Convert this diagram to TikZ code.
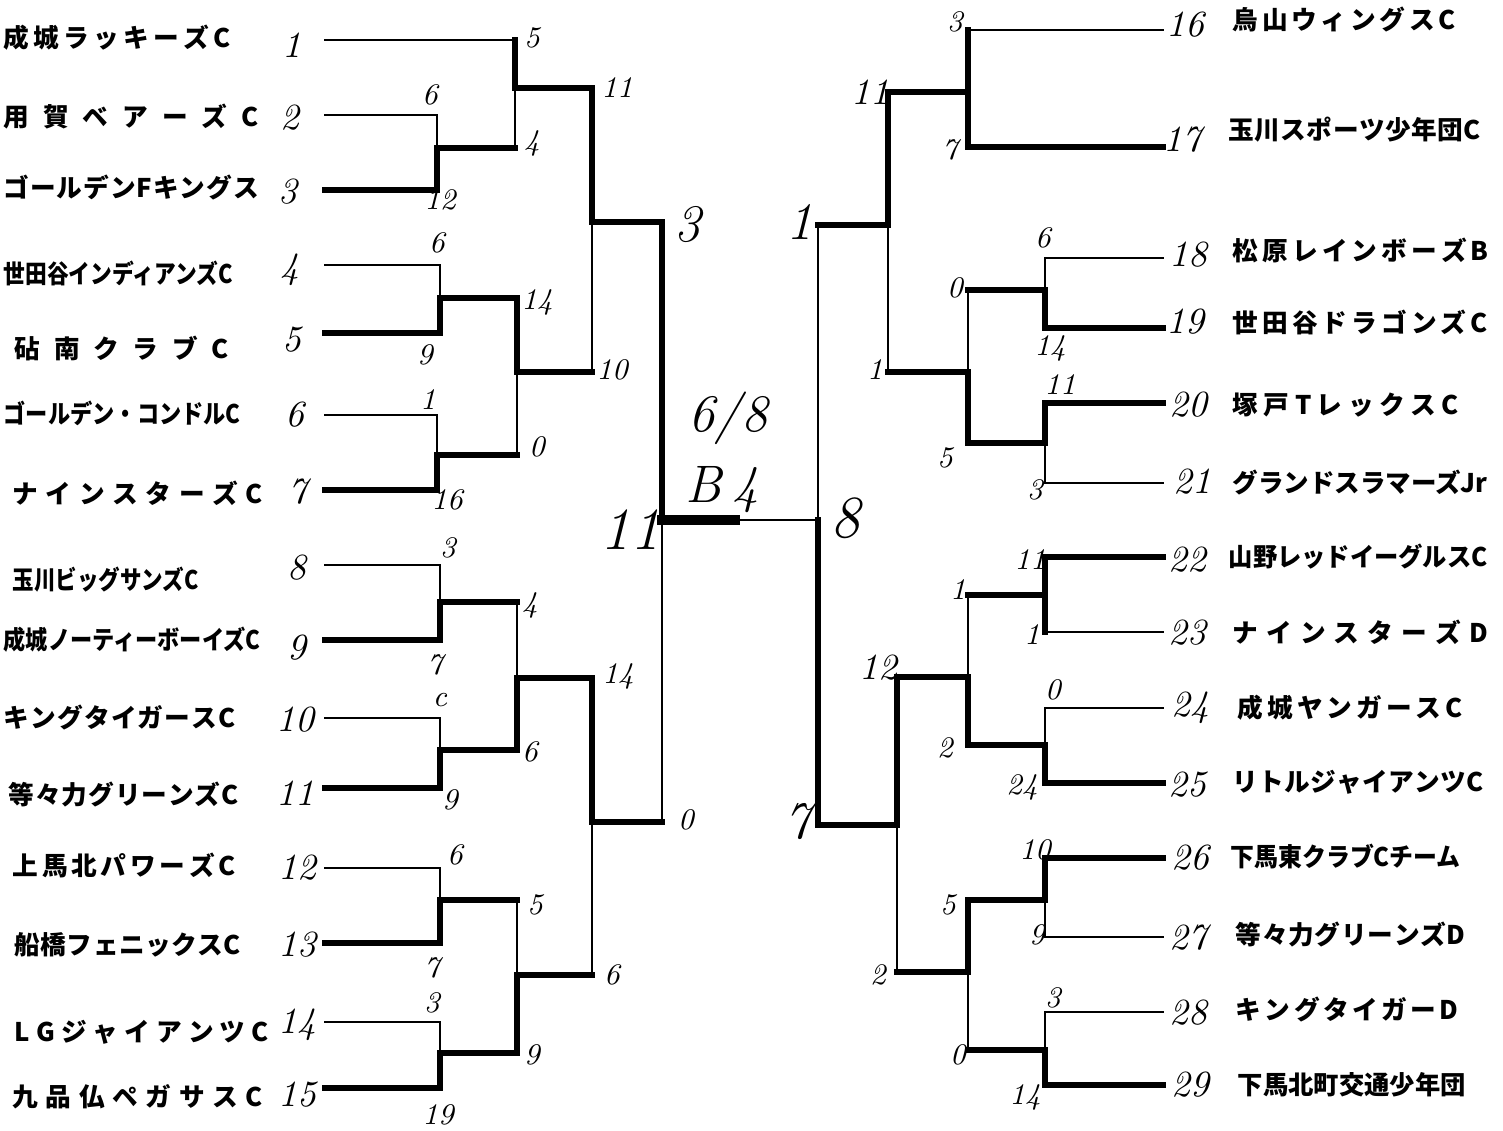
\documentclass[tikz,border=0pt]{standalone}
\usepackage{fontspec}
\usepackage{graphicx}
\newfontfamily\jpfont{Noto Sans CJK JP}
\newdimen\pxu \pxu=0.01cm
\makeatletter
% fit the characters of a team name to a fixed width
\newcommand\spreadjp[2]{\setbox0\hbox{#2}%
  \ifdim\wd0>#1\pxu \resizebox{#1\pxu}{\height}{\box0}%
  \else\makebox[#1\pxu][s]{\let\sepjp\relax\@tfor\chjp:=#2\do{\sepjp\chjp\let\sepjp\hfil}}\fi}
\makeatother
% one join of the bracket: top end, middle (out), bottom end
\newcommand\bout[5]{%
  \coordinate (#1-t) at (#2,#3);
  \coordinate (#1) at (#2,#4);
  \coordinate (#1-b) at (#2,#5);}
\tikzset{
  lose/.style={line width=0.5pt},
  win/.style={line width=1.6pt},
  final/.style={line width=2.8pt},
  score/.style={font=\fontsize{8.5}{8.5}\selectfont\itshape, inner sep=0pt},
  seed/.style={font=\fontsize{10.5}{10.5}\selectfont\itshape, inner sep=0pt},
  big/.style={font=\fontsize{15}{15}\selectfont\itshape, inner sep=0pt},
  team/.style={font=\jpfont\bfseries\fontsize{7.3}{7.3}\selectfont, anchor=west, inner sep=0pt},
}
\begin{document}
\begin{tikzpicture}[x=0.01cm, y=-0.01cm, line cap=rect]
\useasboundingbox (0,0) rectangle (1503,1131);

% team ends
\foreach \n/\y in {1/40,2/115,3/190,4/265,5/333,6/415,7/490,8/565,9/640,10/718,11/788,12/868,13/943,14/1022,15/1088}
  \coordinate (t\n) at (325,\y);
\foreach \n/\y in {16/30,17/147,18/258,19/328,20/403,21/483,22/557,23/632,24/708,25/783,26/858,27/937,28/1012,29/1085}
  \coordinate (t\n) at (1163,\y);

% left joins
\bout{m23}{437}{115}{148}{190}
\bout{m45}{440}{265}{298}{333}
\bout{m67}{437}{415}{455}{490}
\bout{m89}{440}{565}{602}{640}
\bout{m1011}{440}{718}{750}{788}
\bout{m1213}{440}{868}{900}{943}
\bout{m1415}{440}{1022}{1053}{1088}
\bout{q1}{515}{40}{88}{148}
\bout{q2}{517}{298}{372}{455}
\bout{q3}{517}{602}{678}{750}
\bout{q4}{517}{900}{975}{1053}
\bout{s1}{592}{88}{222}{372}
\bout{s2}{592}{678}{822}{975}
\bout{f1}{662}{222}{520}{822}
\coordinate (cb) at (735,520);
% right joins
\bout{f2}{818}{225}{520}{825}
\bout{s3}{888}{92}{225}{372}
\bout{s4}{897}{677}{825}{972}
\bout{q5}{968}{30}{92}{147}
\bout{q6}{968}{290}{372}{443}
\bout{q7}{968}{595}{677}{745}
\bout{q8}{968}{900}{972}{1050}
\bout{m1819}{1045}{258}{290}{328}
\bout{m2021}{1045}{403}{443}{483}
\bout{m2223}{1045}{557}{595}{632}
\bout{m2425}{1045}{708}{745}{783}
\bout{m2627}{1045}{858}{900}{937}
\bout{m2829}{1045}{1012}{1050}{1085}

% left bracket
\draw[lose] (t1) -- (q1-t);
\draw[lose] (t2) -- (m23-t) -- (m23);
\draw[win] (t3) -- (m23-b) -- (m23) -- (q1-b);
\draw[lose] (q1-b) -- (q1);
\draw[win] (q1-t) -- (q1) -- (s1-t) -- (s1) -- (f1-t) -- (f1);
\draw[lose] (t4) -- (m45-t) -- (m45);
\draw[win] (t5) -- (m45-b) -- (m45) -- (q2-t) -- (q2) -- (s1-b);
\draw[lose] (t6) -- (m67-t) -- (m67);
\draw[win] (t7) -- (m67-b) -- (m67) -- (q2-b);
\draw[lose] (q2) -- (q2-b);
\draw[lose] (s1) -- (s1-b);
\draw[lose] (t8) -- (m89-t) -- (m89);
\draw[win] (t9) -- (m89-b) -- (m89) -- (q3-t);
\draw[lose] (q3-t) -- (q3);
\draw[lose] (t10) -- (m1011-t) -- (m1011);
\draw[win] (t11) -- (m1011-b) -- (m1011) -- (q3-b) -- (q3) -- (s2-t) -- (s2) -- (f1-b);
\draw[lose] (t12) -- (m1213-t) -- (m1213);
\draw[win] (t13) -- (m1213-b) -- (m1213) -- (q4-t);
\draw[lose] (q4-t) -- (q4);
\draw[lose] (t14) -- (m1415-t) -- (m1415);
\draw[win] (t15) -- (m1415-b) -- (m1415) -- (q4-b) -- (q4) -- (s2-b);
\draw[lose] (s2) -- (s2-b);
\draw[lose] (f1) -- (f1-b);
\draw[final] (f1) -- (cb);
\draw[lose] (cb) -- (f2);

% right bracket
\draw[lose] (f2-t) -- (f2);
\draw[win] (f2) -- (f2-b) -- (s4);
\draw[win] (f2-t) -- (s3) -- (s3-t) -- (q5);
\draw[lose] (s3) -- (s3-b);
\draw[win] (s3-b) -- (q6);
\draw[lose] (q5-t) -- (t16);
\draw[win] (q5-t) -- (q5) -- (q5-b) -- (t17);
\draw[lose] (q6-t) -- (q6);
\draw[win] (m1819) -- (q6-t);
\draw[win] (q6) -- (q6-b) -- (m2021);
\draw[lose] (t18) -- (m1819-t) -- (m1819);
\draw[win] (m1819) -- (m1819-b) -- (t19);
\draw[win] (t20) -- (m2021-t) -- (m2021);
\draw[lose] (m2021) -- (m2021-b) -- (t21);
\draw[win] (s4) -- (s4-t) -- (q7);
\draw[lose] (s4) -- (s4-b);
\draw[win] (s4-b) -- (q8);
\draw[lose] (q7-t) -- (q7);
\draw[win] (m2223) -- (q7-t);
\draw[win] (q7) -- (q7-b) -- (m2425);
\draw[win] (t22) -- (m2223-t) -- (m2223) -- (m2223-b);
\draw[lose] (m2223-b) -- (t23);
\draw[lose] (t24) -- (m2425-t) -- (m2425);
\draw[win] (m2425) -- (m2425-b) -- (t25);
\draw[win] (m2627) -- (q8-t) -- (q8);
\draw[lose] (q8) -- (q8-b);
\draw[win] (q8-b) -- (m2829);
\draw[win] (t26) -- (m2627-t) -- (m2627);
\draw[lose] (m2627) -- (m2627-b) -- (t27);
\draw[lose] (t28) -- (m2829-t) -- (m2829);
\draw[win] (m2829) -- (m2829-b) -- (t29);

% team names
\foreach \n/\x/\y/\w/\txt in {
  1/3/38/227/成城ラッキーズC, 2/3/117/255/用賀ベアーズC, 3/3/188/255/ゴールデンFキングス,
  4/3/273/229/世田谷インディアンズC, 5/14/348/214/砧南クラブC, 6/3/413/237/ゴールデン・コンドルC,
  7/12/493/250/ナインスターズC, 8/12/580/186/玉川ビッグサンズC, 9/3/640/257/成城ノーティーボーイズC,
  10/3/718/232/キングタイガースC, 11/8/795/230/等々力グリーンズC, 12/12/865/223/上馬北パワーズC,
  13/14/945/226/船橋フェニックスC, 14/14/1032/254/LGジャイアンツC, 15/12/1097/250/九品仏ペガサスC,
  16/1232/20/223/烏山ウィングスC, 17/1228/130/252/玉川スポーツ少年団C, 18/1232/250/256/松原レインボーズB,
  19/1232/322/255/世田谷ドラゴンズC, 20/1232/405/226/塚戸TレックスC, 21/1232/483/255/グランドスラマーズ{Jr},
  22/1228/557/259/山野レッドイーグルスC, 23/1232/632/255/ナインスターズD, 24/1237/708/225/成城ヤンガースC,
  25/1232/782/251/リトルジャイアンツC, 26/1230/857/230/下馬東クラブCチーム, 27/1235/935/230/等々力グリーンズD,
  28/1235/1010/223/キングタイガーD, 29/1237/1085/228/下馬北町交通少年団}
  \node[team] (name\n) at (\x,\y) {\edef\tmpjp{\noexpand\spreadjp{\w}{\txt}}\tmpjp};

% seed numbers
\foreach \x/\y/\s in {292/45/1, 290/118/2, 288/192/3, 290/270/4, 292/340/5, 295/415/6, 298/492/7,
  297/568/8, 297/648/9, 295/720/10, 295/793/11, 297/868/12, 297/945/13, 297/1025/14, 297/1095/15,
  1185/25/16, 1182/140/17, 1188/255/18, 1185/322/19, 1188/405/20, 1192/482/21, 1187/560/22,
  1187/633/23, 1190/708/24, 1187/785/25, 1190/858/26, 1188/938/27, 1188/1013/28, 1190/1085/29}
  \node[seed] (seed\s) at (\x,\y) {\s};

% scores
\foreach \x/\y/\s [count=\i] in {532/38/5, 430/95/6, 440/200/12, 532/143/4, 617/88/11, 437/243/6,
  425/355/9, 537/302/14, 428/400/1, 447/500/16, 537/447/0, 612/370/10, 448/548/3, 435/665/7,
  530/605/4, 440/700/c, 450/800/9, 530/752/6, 618/676/14, 455/855/6, 432/968/7, 535/905/5,
  432/1003/3, 438/1115/19, 532/1055/9, 612/975/6, 686/820/0,
  955/22/3, 950/150/7, 875/370/1, 1043/238/6, 955/288/0, 1050/348/14, 1060/385/11, 945/458/5,
  1035/490/3, 1030/560/11, 958/590/1, 1032/635/1, 1053/690/0, 945/748/2, 1022/787/24,
  1035/850/10, 948/905/5, 1037/935/9, 878/975/2, 1053/998/3, 958/1055/0, 1025/1097/14}
  \node[score] (sc\i) at (\x,\y) {\s};
\node[seed] (sc11r) at (870,92) {11};
\node[seed] (sc12r) at (878,668) {12};

% final round
\node[big] (semiL) at (688,225) {3};
\node[big] (semiR) at (800,222) {1};
\node[big] (lowR) at (798,822) {7};
\node[big, font=\fontsize{17}{17}\selectfont\itshape] (finL) at (630,530) {11};
\node[big, font=\fontsize{17}{17}\selectfont\itshape] (finR) at (845,518) {8};
\node[big] (date) at (728,418) {6/8};
\node[big] (court) at (722,490) {B\hspace{3pt}4};
\end{tikzpicture}
\end{document}
